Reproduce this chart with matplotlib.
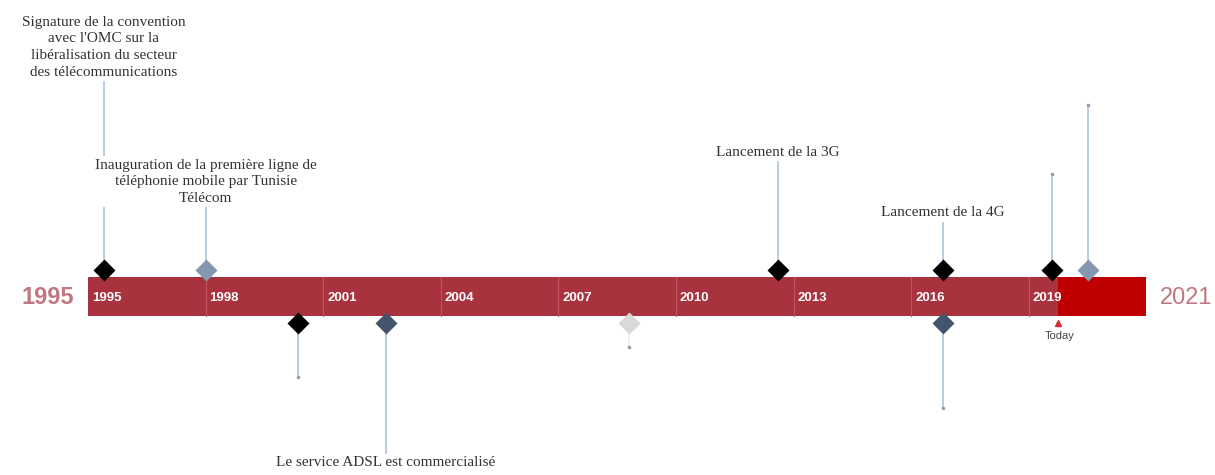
import matplotlib
matplotlib.use("Agg")
import matplotlib.pyplot as plt

# ---- data ----
start_year = 1995
end_year = 2022
today = 2019.75
left_label = "1995"
right_label = "2021"
tick_years = [1995, 1998, 2001, 2004, 2007, 2010, 2013, 2016, 2019]

event_dates = [1995.4, 1998.0, 2000.35, 2002.6, 2008.8, 2012.6, 2016.8, 2016.8, 2019.6, 2020.5]
event_levels = [216, 90, -80, -158, -50, 136, 75, -111, 123, 192]
event_labels = [
    "Signature de la convention\navec l'OMC sur la\nlibéralisation du secteur\ndes télécommunications",
    "Inauguration de la première ligne de\ntéléphonie mobile par Tunisie\nTélécom",
    "",
    "Le service ADSL est commercialisé",
    "",
    "Lancement de la 3G",
    "Lancement de la 4G",
    "",
    "",
    "",
]
event_colors = ["#000000", "#8497B0", "#000000", "#44546A", "#D9D9D9",
                "#000000", "#000000", "#44546A", "#000000", "#8497B0"]

# ---- figure ----
W, H = 1215, 475
fig = plt.figure(figsize=(W / 100, H / 100), dpi=100)
ax = fig.add_axes([0, 0, 1, 1])
ppy = 39.2  # pixels per year
x0 = start_year - 88 / ppy
ax.set_xlim(x0, x0 + W / ppy)
ax.set_ylim(-(H - 296.5), 296.5)
ax.axis("off")

bar_half = 19.5
bar_red = "#A8323E"
bar_bright = "#C00000"
ax.fill_between([start_year, today], -bar_half, bar_half, color=bar_red, lw=0, zorder=2)
ax.fill_between([today, end_year], -bar_half, bar_half, color=bar_bright, lw=0, zorder=2)

for yr in tick_years:
    if yr != start_year:
        ax.plot([yr, yr], [-bar_half, bar_half], color="#BE5560", lw=0.8, zorder=3)
    ax.text(yr + 0.1, -1.5, str(yr), color="white", fontsize=9.5, fontweight="bold",
            family="Liberation Sans", ha="left", va="center", zorder=4)

side_color = "#C27680"
ax.text(start_year - 0.35, -1, left_label, color=side_color, fontsize=17, fontweight="bold",
        family="Liberation Sans", ha="right", va="center")
ax.text(end_year + 0.35, -1, right_label, color=side_color, fontsize=17,
        family="Liberation Sans", ha="left", va="center")

# today marker
ax.plot([today], [-bar_half - 7], marker="^", color="#D0303C", ms=5, zorder=5)
ax.text(today + 0.05, -bar_half - 20, "Today", color="#444444", fontsize=8,
        family="Liberation Sans", ha="center", va="center")

d_off = 26.5
for d, lv, lab, c in zip(event_dates, event_levels, event_labels, event_colors):
    up = lv > 0
    dy = d_off if up else -d_off
    stem_c = "#EEEEEE" if c == "#D9D9D9" else "#ADC2D8"
    ax.plot([d, d], [dy, lv], color=stem_c, lw=1.2, zorder=1)
    ax.plot([d], [dy], marker="D", color=c, ms=11.5, mec="none", zorder=6)
    if lab:
        ax.text(d, lv + (2 if up else -2), lab, ha="center", va="bottom" if up else "top",
                fontsize=11, family="Liberation Serif", color="#333333",
                linespacing=1.35, zorder=7,
                bbox=dict(facecolor="white", edgecolor="none", pad=1.5))
    else:
        ax.plot([d], [lv], marker="o", color="#999999", ms=1.5, zorder=1)

fig.savefig("out.png", dpi=100, facecolor="white")
